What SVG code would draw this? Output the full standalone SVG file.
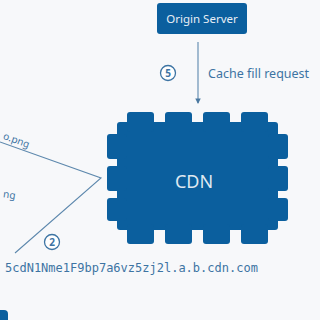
<svg xmlns="http://www.w3.org/2000/svg" width="320" height="320" viewBox="0 0 320 320">
<defs>
<style>
.box{fill:#0b5f9e}
.lbl{fill:#3d74a3;font-family:"Noto Sans","Open Sans",sans-serif}
.ln{stroke:#5d88ad;stroke-width:1.1;fill:none}
.circ{fill:#ffffff;stroke:#3d74a3;stroke-width:1.3}
.num{fill:#3d74a3;font-family:"Noto Sans",sans-serif;font-size:10px;font-weight:bold;text-anchor:middle}
</style>
<marker id="ah" viewBox="0 0 6 6" refX="5" refY="3" markerWidth="5" markerHeight="5" orient="auto">
<path d="M0,0 L6,3 L0,6 z" fill="#4a78a0"/>
</marker>
</defs>
<rect width="320" height="320" fill="#f7f8fa"/>
<g id="connectors">
<line class="ln" x1="198" y1="42" x2="198" y2="103" marker-end="url(#ah)"/>
<polyline class="ln" points="0,142 101,178 15,253"/>
</g>
<g id="origin">
<rect class="box" x="157" y="3" width="90" height="31" rx="3"/>
<text x="202" y="23" fill="#e8eef5" font-family="Noto Sans,Open Sans,sans-serif" font-size="11.5" text-anchor="middle">Origin Server</text>
</g>
<g id="cdn">
<rect class="box" x="117" y="122" width="161" height="108" rx="3"/>
<rect class="box" x="127" y="112" width="27" height="20" rx="3"/>
<rect class="box" x="165" y="112" width="27" height="20" rx="3"/>
<rect class="box" x="203" y="112" width="27" height="20" rx="3"/>
<rect class="box" x="241" y="112" width="27" height="20" rx="3"/>
<rect class="box" x="127" y="224" width="27" height="20" rx="3"/>
<rect class="box" x="165" y="224" width="27" height="20" rx="3"/>
<rect class="box" x="203" y="224" width="27" height="20" rx="3"/>
<rect class="box" x="241" y="224" width="27" height="20" rx="3"/>
<rect class="box" x="107" y="134" width="20" height="25" rx="3"/>
<rect class="box" x="107" y="166" width="20" height="25" rx="3"/>
<rect class="box" x="107" y="198" width="20" height="23" rx="3"/>
<rect class="box" x="268" y="134" width="20" height="25" rx="3"/>
<rect class="box" x="268" y="166" width="20" height="25" rx="3"/>
<rect class="box" x="268" y="198" width="20" height="23" rx="3"/>
<text x="194" y="188" fill="#dfe8f1" font-family="Noto Sans,Open Sans,sans-serif" font-size="18" text-anchor="middle">CDN</text>
</g>
<g id="step5">
<circle class="circ" cx="168" cy="73" r="7.5"/>
<text class="num" x="168" y="76.5">5</text>
<text class="lbl" x="208" y="78" font-size="12.5">Cache fill request</text>
</g>
<g id="step2">
<circle class="circ" cx="52" cy="242" r="7.5"/>
<text class="num" x="52" y="245.5">2</text>
<text class="lbl" x="5" y="272" font-size="12" style="font-family:'DejaVu Sans Mono',monospace">5cdN1Nme1F9bp7a6vz5zj2l.a.b.cdn.com</text>
</g>
<g id="labels">
<text class="lbl" x="28" y="148" font-size="10" text-anchor="end" transform="rotate(20 28 148)">o.png</text>
<text class="lbl" x="15" y="199" font-size="10" text-anchor="end" transform="rotate(8 15 199)">ng</text>
</g>
<rect class="box" x="-10" y="310" width="18" height="20" rx="4"/>
</svg>
